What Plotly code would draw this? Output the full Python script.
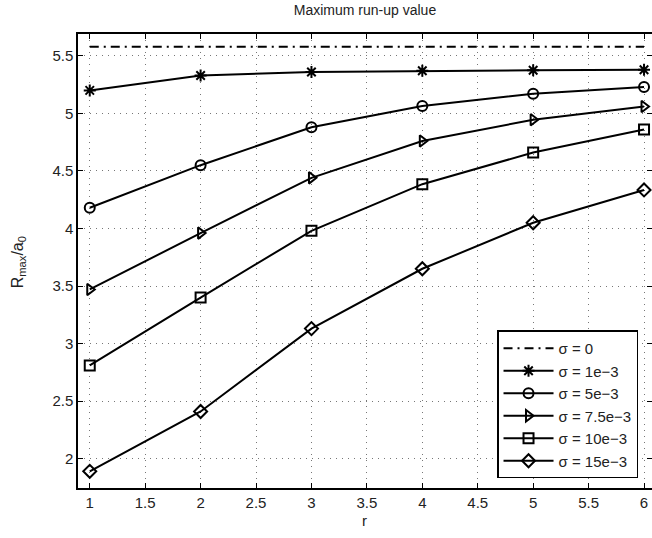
import plotly.graph_objects as go

r = [1, 2, 3, 4, 5, 6]
sigma0 = [5.58, 5.58, 5.58, 5.58, 5.58, 5.58]
sigma_1e3 = [5.20, 5.33, 5.36, 5.37, 5.375, 5.38]
sigma_5e3 = [4.18, 4.55, 4.88, 5.065, 5.17, 5.23]
sigma_75e3 = [3.47, 3.96, 4.44, 4.76, 4.945, 5.06]
sigma_10e3 = [2.81, 3.40, 3.98, 4.385, 4.66, 4.86]
sigma_15e3 = [1.89, 2.41, 3.13, 3.65, 4.05, 4.335]

labels = ["σ = 0", "σ = 1e−3", "σ = 5e−3", "σ = 7.5e−3", "σ = 10e−3", "σ = 15e−3"]
series = [sigma0, sigma_1e3, sigma_5e3, sigma_75e3, sigma_10e3, sigma_15e3]
symbols = [None, "asterisk-open", "circle-open", "triangle-right-open", "square-open", "diamond-open"]

fig = go.Figure()
for lab, ys, sym in zip(labels, series, symbols):
    if sym is None:
        fig.add_trace(go.Scatter(x=r, y=ys, name=lab, mode="lines",
                                 line=dict(color="black", width=2, dash="9px,5px,2px,5px")))
    else:
        fig.add_trace(go.Scatter(x=r, y=ys, name=lab, mode="lines+markers",
                                 line=dict(color="black", width=2),
                                 marker=dict(symbol=sym, size=10, color="black",
                                             line=dict(color="black", width=2))))

axis_common = dict(
    showline=True, linecolor="black", linewidth=1.5, mirror="ticks",
    ticks="inside", ticklen=5, tickcolor="black", tickwidth=1,
    showgrid=True, gridcolor="#777777", griddash="1px,5px", gridwidth=1,
    zeroline=False, tickfont=dict(size=15, color="#222"), automargin=False,
)

fig.update_xaxes(range=[0.894, 6.072], dtick=0.5, tick0=1, **axis_common)
fig.update_yaxes(range=[1.745, 5.69], dtick=0.5, tick0=2, **axis_common)

W, H = 652, 538
fig.update_layout(
    width=W, height=H,
    margin=dict(l=78, r=0, t=34, b=50),
    paper_bgcolor="white", plot_bgcolor="white",
    font=dict(family="Liberation Sans, Arial, sans-serif", color="#222"),
    title=dict(text="Maximum run-up value", x=(78 + 652) / 2 / W, xanchor="center",
               y=1 - 10 / H, yanchor="middle", font=dict(size=14, color="#222")),
    legend=dict(x=0.73, y=0.021, xanchor="left", yanchor="bottom",
                bgcolor="white", bordercolor="black", borderwidth=1.5,
                font=dict(size=15, color="#222"), itemwidth=50,
                tracegroupgap=0),
    showlegend=True,
    annotations=[
        dict(text="r", xref="paper", yref="paper", x=(364 - 78) / 574, y=(487.7 - 520) / 454,
             showarrow=False, xanchor="center", yanchor="middle", font=dict(size=15, color="#222")),
        dict(text="R<sub>max</sub>/a<sub>0</sub>", xref="paper", yref="paper",
             x=(18 - 78) / 574, y=(487.7 - 262) / 454, textangle=-90,
             showarrow=False, xanchor="center", yanchor="middle", font=dict(size=16, color="#222")),
    ],
)

fig.write_html("out.html", config={"displayModeBar": False},
               post_script="document.body.style.margin='0';document.body.style.overflow='hidden';")
